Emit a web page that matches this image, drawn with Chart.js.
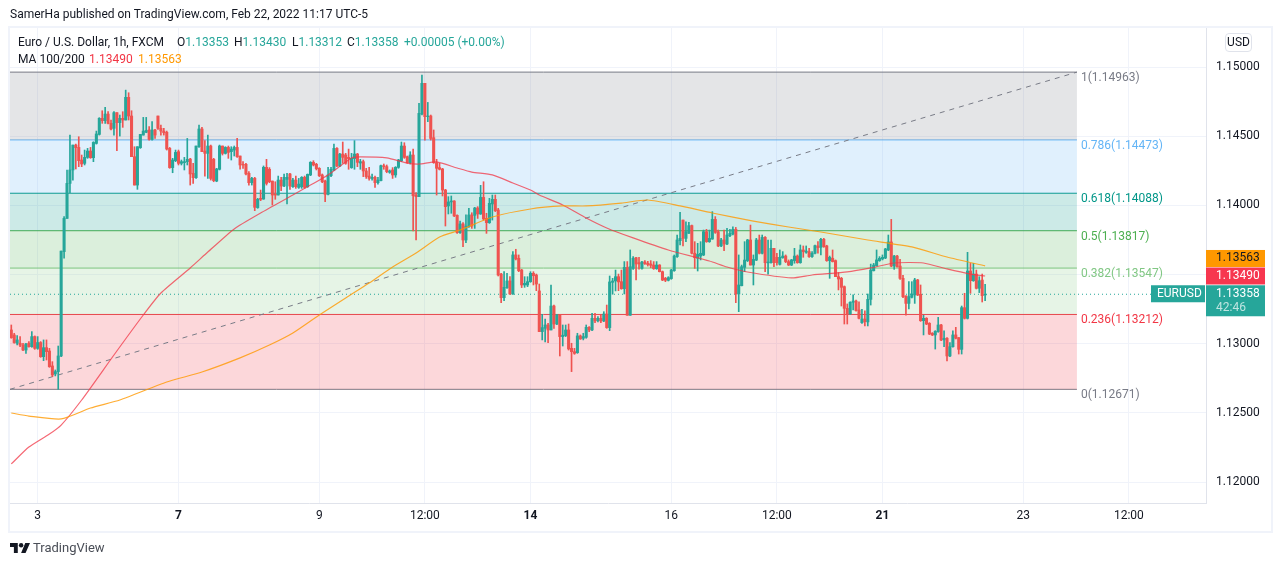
<!DOCTYPE html>
<html>
<head>
<meta charset="utf-8">
<title>EURUSD 1h</title>
<script src="https://cdn.jsdelivr.net/npm/chart.js@4"></script>
<style>
html,body{margin:0;padding:0;background:#fff;}
body{width:1280px;height:566px;overflow:hidden;position:relative;font-family:Roboto,sans-serif;font-size:12px;color:#131722;}
canvas{position:absolute;left:0;top:0;}
.t{position:absolute;white-space:pre;line-height:16px;}
.frame{position:absolute;left:8px;top:26px;width:1261px;height:503px;border:2px solid #f0f3fa;}
.up{color:#26a69a;}
.usd{position:absolute;left:1225px;top:33px;width:25px;height:17px;line-height:17px;border:1px solid #e0e3eb;border-radius:4px;text-align:center;background:#fff;}
</style>
</head>
<body>
<div class="frame"></div>
<canvas id="chart" width="1280" height="566"></canvas>

<div class="t" style="left:10px;top:6px">SamerHa published on TradingView.com, Feb 22, 2022 11:17 UTC-5</div>
<div class="t" style="left:18px;top:34px">Euro / U.S. Dollar, 1h, FXCM</div>
<div class="t" style="left:177px;top:34px">O<span class="up">1.13353</span></div>
<div class="t" style="left:234px;top:34px">H<span class="up">1.13430</span></div>
<div class="t" style="left:292px;top:34px">L<span class="up">1.13312</span></div>
<div class="t" style="left:347px;top:34px">C<span class="up">1.13358</span></div>
<div class="t up" style="left:404px;top:34px">+0.00005 (+0.00%)</div>
<div class="t" style="left:18px;top:51px">MA 100/200</div>
<div class="t" style="left:89px;top:51px;color:#f23645">1.13490</div>
<div class="t" style="left:138px;top:51px;color:#ff9800">1.13563</div>
<div class="usd">USD</div>

<svg style="position:absolute;left:10px;top:543px" width="20" height="10" viewBox="0 0 36 18"><path fill="#131722" d="M14 18H7V7H0V0h14v18zm14 0h-8l7.5-18H36l-8 18z"/><circle fill="#131722" cx="20" cy="4" r="4"/></svg>
<div class="t" style="left:33px;top:540px;font-size:13px;color:#4a4e57">TradingView</div>

<script>
// hourly candles
let opens = [
1.13100,1.13064,1.13004,1.13004,1.12991,1.12955,1.13004,1.12979,1.13052,1.12967,
1.13009,1.12907,1.12972,1.12948,1.12840,1.12782,1.12799,1.12912,1.13666,1.13906,
1.14159,1.14256,1.14436,1.14419,1.14328,1.14304,1.14347,1.14393,1.14345,1.14448,
1.14513,1.14629,1.14612,1.14660,1.14593,1.14557,1.14670,1.14598,1.14629,1.14617,
1.14781,1.14646,1.14352,1.14147,1.14417,1.14508,1.14528,1.14545,1.14477,1.14545,
1.14646,1.14557,1.14537,1.14528,1.14412,1.14273,1.14323,1.14388,1.14304,1.14309,
1.14316,1.14335,1.14232,1.14200,1.14424,1.14552,1.14393,1.14376,1.14429,1.14333,
1.14176,1.14261,1.14429,1.14376,1.14419,1.14388,1.14400,1.14419,1.14357,1.14297,
1.14297,1.14232,1.14164,1.14195,1.13984,1.14051,1.14046,1.14275,1.14261,1.14176,
1.14080,1.14075,1.14183,1.14140,1.14188,1.14227,1.14135,1.14183,1.14130,1.14135,
1.14203,1.14135,1.14220,1.14311,1.14297,1.14268,1.14220,1.14176,1.14080,1.14215,
1.14256,1.14412,1.14285,1.14371,1.14364,1.14347,1.14273,1.14338,1.14371,1.14306,
1.14316,1.14249,1.14212,1.14195,1.14203,1.14164,1.14179,1.14287,1.14280,1.14239,
1.14256,1.14220,1.14275,1.14323,1.14429,1.14352,1.14309,1.14364,1.14075,1.14063,
1.14660,1.14882,1.14641,1.14646,1.14489,1.14309,1.14273,1.14263,1.14111,1.13996,
1.14025,1.14032,1.13928,1.13803,1.13866,1.13750,1.13846,1.13931,1.13928,1.13981,
1.13938,1.14058,1.13906,1.13875,1.14010,1.14044,1.13967,1.13504,1.13333,1.13405,
1.13454,1.13360,1.13642,1.13618,1.13533,1.13425,1.13425,1.13449,1.13509,1.13497,
1.13382,1.13088,1.13112,1.13136,1.13100,1.13273,1.13143,1.13208,1.13052,1.13059,
1.13100,1.12967,1.12943,1.12936,1.13057,1.13040,1.13047,1.13119,1.13100,1.13184,
1.13167,1.13184,1.13165,1.13215,1.13117,1.13444,1.13454,1.13485,1.13449,1.13398,
1.13552,1.13206,1.13545,1.13622,1.13586,1.13545,1.13591,1.13582,1.13577,1.13569,
1.13543,1.13569,1.13521,1.13473,1.13459,1.13471,1.13528,1.13630,1.13745,1.13894,
1.13762,1.13798,1.13854,1.13654,1.13618,1.13634,1.13642,1.13810,1.13738,1.13757,
1.13899,1.13810,1.13707,1.13750,1.13721,1.13781,1.13793,1.13827,1.13360,1.13420,
1.13552,1.13601,1.13750,1.13569,1.13605,1.13750,1.13654,1.13769,1.13584,1.13586,
1.13690,1.13625,1.13574,1.13622,1.13634,1.13594,1.13569,1.13601,1.13634,1.13586,
1.13678,1.13661,1.13666,1.13630,1.13654,1.13707,1.13697,1.13755,1.13707,1.13601,
1.13618,1.13601,1.13485,1.13473,1.13413,1.13256,1.13215,1.13300,1.13309,1.13244,
1.13153,1.13179,1.13158,1.13321,1.13528,1.13565,1.13601,1.13613,1.13620,1.13678,
1.13736,1.13562,1.13634,1.13562,1.13473,1.13346,1.13292,1.13336,1.13353,1.13461,
1.13358,1.13167,1.13184,1.13148,1.13076,1.13064,1.13088,1.13136,1.13028,1.13040,
1.12912,1.12979,1.13064,1.13045,1.12960,1.13261,1.13184,1.13526,1.13456,1.13504,
1.13401,1.13461,1.13353
];
let highs = [
1.13136,1.13076,1.13059,1.13052,1.13004,1.13004,1.13016,1.13088,1.13057,1.13052,
1.13016,1.13028,1.13028,1.12967,1.12871,1.12811,1.12984,1.13670,1.13919,1.14256,
1.14508,1.14436,1.14443,1.14496,1.14364,1.14400,1.14412,1.14419,1.14460,1.14537,
1.14634,1.14684,1.14708,1.14677,1.14617,1.14677,1.14670,1.14653,1.14677,1.14833,
1.14814,1.14684,1.14424,1.14424,1.14513,1.14636,1.14636,1.14569,1.14605,1.14549,
1.14646,1.14581,1.14557,1.14537,1.14419,1.14340,1.14400,1.14400,1.14328,1.14347,
1.14484,1.14340,1.14304,1.14429,1.14581,1.14564,1.14468,1.14508,1.14436,1.14340,
1.14268,1.14436,1.14429,1.14424,1.14429,1.14424,1.14429,1.14484,1.14357,1.14316,
1.14304,1.14244,1.14203,1.14203,1.14051,1.14111,1.14285,1.14333,1.14273,1.14176,
1.14171,1.14212,1.14203,1.14227,1.14232,1.14232,1.14195,1.14212,1.14195,1.14208,
1.14212,1.14227,1.14316,1.14323,1.14304,1.14273,1.14227,1.14183,1.14275,1.14275,
1.14443,1.14417,1.14376,1.14458,1.14376,1.14407,1.14376,1.14468,1.14376,1.14333,
1.14328,1.14268,1.14275,1.14227,1.14212,1.14203,1.14292,1.14299,1.14292,1.14256,
1.14273,1.14280,1.14333,1.14458,1.14453,1.14357,1.14388,1.14407,1.14092,1.14737,
1.14942,1.14882,1.14744,1.14653,1.14545,1.14333,1.14304,1.14268,1.14116,1.14063,
1.14068,1.14034,1.13931,1.13887,1.13875,1.13931,1.13979,1.13947,1.13986,1.13991,
1.14145,1.14171,1.13943,1.14051,1.14075,1.14075,1.13979,1.13509,1.13521,1.13509,
1.13485,1.13666,1.13683,1.13642,1.13538,1.13485,1.13485,1.13521,1.13521,1.13504,
1.13432,1.13213,1.13179,1.13148,1.13425,1.13280,1.13213,1.13213,1.13136,1.13136,
1.13143,1.13004,1.12967,1.13076,1.13064,1.13076,1.13136,1.13124,1.13220,1.13220,
1.13196,1.13208,1.13232,1.13280,1.13490,1.13473,1.13533,1.13504,1.13533,1.13594,
1.13594,1.13678,1.13630,1.13625,1.13625,1.13596,1.13601,1.13596,1.13601,1.13594,
1.13594,1.13572,1.13526,1.13480,1.13485,1.13538,1.13642,1.13786,1.13950,1.13894,
1.13882,1.13878,1.13858,1.13738,1.13726,1.13738,1.13822,1.13827,1.13822,1.13955,
1.13919,1.13822,1.13762,1.13822,1.13834,1.13827,1.13846,1.13841,1.13642,1.13569,
1.13738,1.13755,1.13858,1.13642,1.13762,1.13786,1.13786,1.13774,1.13750,1.13750,
1.13690,1.13654,1.13678,1.13666,1.13642,1.13606,1.13610,1.13690,1.13642,1.13714,
1.13707,1.13707,1.13690,1.13666,1.13714,1.13738,1.13762,1.13762,1.13712,1.13634,
1.13678,1.13606,1.13514,1.13480,1.13418,1.13288,1.13304,1.13353,1.13316,1.13304,
1.13249,1.13239,1.13360,1.13576,1.13581,1.13678,1.13630,1.13642,1.13690,1.13786,
1.13899,1.13639,1.13639,1.13610,1.13495,1.13346,1.13449,1.13449,1.13473,1.13466,
1.13425,1.13206,1.13189,1.13153,1.13081,1.13095,1.13191,1.13141,1.13093,1.13045,
1.13008,1.13093,1.13119,1.13045,1.13273,1.13365,1.13661,1.13581,1.13581,1.13533,
1.13485,1.13504,1.13430
];
let lows = [
1.13040,1.13004,1.12991,1.12979,1.12951,1.12931,1.12975,1.12975,1.12960,1.12960,
1.12902,1.12878,1.12883,1.12830,1.12763,1.12768,1.12671,1.12907,1.13618,1.13906,
1.14092,1.14183,1.14263,1.14280,1.14280,1.14292,1.14340,1.14340,1.14316,1.14443,
1.14508,1.14593,1.14593,1.14588,1.14545,1.14508,1.14395,1.14501,1.14564,1.14617,
1.14617,1.14352,1.14147,1.14116,1.14412,1.14508,1.14525,1.14472,1.14472,1.14484,
1.14549,1.14508,1.14508,1.14400,1.14268,1.14236,1.14316,1.14292,1.14292,1.14256,
1.14292,1.14147,1.14159,1.14195,1.14419,1.14388,1.14212,1.14195,1.14183,1.14171,
1.14171,1.14256,1.14364,1.14371,1.14340,1.14328,1.14357,1.14347,1.14261,1.14268,
1.14220,1.14147,1.14147,1.13962,1.13979,1.14034,1.14044,1.14147,1.14164,1.14003,
1.14044,1.14075,1.14106,1.14135,1.14010,1.14116,1.14130,1.14123,1.14123,1.14123,
1.14123,1.14130,1.14215,1.14285,1.14256,1.14208,1.14164,1.14027,1.14075,1.14208,
1.14251,1.14280,1.14280,1.14304,1.14297,1.14261,1.14268,1.14261,1.14280,1.14261,
1.14208,1.14195,1.14183,1.14183,1.14130,1.14154,1.14176,1.14261,1.14236,1.14232,
1.14195,1.14203,1.14268,1.14316,1.14340,1.14304,1.14299,1.13815,1.13750,1.14063,
1.14653,1.14472,1.14605,1.14472,1.14304,1.14075,1.14256,1.14068,1.13851,1.13938,
1.13943,1.13919,1.13798,1.13798,1.13702,1.13731,1.13841,1.13834,1.13834,1.13906,
1.13935,1.13894,1.13798,1.13870,1.13894,1.13955,1.13490,1.13297,1.13312,1.13401,
1.13357,1.13357,1.13606,1.13521,1.13406,1.13408,1.13413,1.13444,1.13425,1.13384,
1.13088,1.13028,1.13013,1.13009,1.13100,1.13112,1.13138,1.12912,1.12984,1.13052,
1.12955,1.12799,1.12924,1.12931,1.13032,1.13028,1.13040,1.13088,1.13095,1.13153,
1.13158,1.13153,1.13160,1.13112,1.13095,1.13358,1.13382,1.13384,1.13394,1.13360,
1.13206,1.13206,1.13538,1.13461,1.13540,1.13540,1.13574,1.13562,1.13550,1.13538,
1.13538,1.13519,1.13456,1.13449,1.13454,1.13466,1.13524,1.13625,1.13714,1.13707,
1.13738,1.13798,1.13649,1.13545,1.13526,1.13606,1.13637,1.13733,1.13733,1.13755,
1.13798,1.13702,1.13702,1.13673,1.13716,1.13774,1.13786,1.13297,1.13232,1.13418,
1.13521,1.13594,1.13569,1.13425,1.13601,1.13649,1.13649,1.13521,1.13504,1.13582,
1.13557,1.13569,1.13569,1.13618,1.13586,1.13565,1.13565,1.13582,1.13582,1.13582,
1.13625,1.13654,1.13625,1.13625,1.13649,1.13654,1.13642,1.13697,1.13596,1.13473,
1.13591,1.13485,1.13389,1.13273,1.13143,1.13143,1.13213,1.13244,1.13235,1.13179,
1.13148,1.13129,1.13129,1.13280,1.13526,1.13562,1.13596,1.13606,1.13615,1.13673,
1.13557,1.13538,1.13553,1.13466,1.13334,1.13206,1.13252,1.13331,1.13292,1.13348,
1.13162,1.13064,1.13138,1.13066,1.13059,1.12962,1.13083,1.13023,1.12979,1.12876,
1.12907,1.12975,1.13035,1.12926,1.12926,1.13179,1.13179,1.13365,1.13451,1.13396,
1.13370,1.13302,1.13312
];
let closes = [
1.13044,1.13009,1.13028,1.12991,1.12955,1.12999,1.12979,1.13052,1.12967,1.13009,
1.12907,1.12972,1.12943,1.12835,1.12775,1.12799,1.12912,1.13670,1.13906,1.14159,
1.14256,1.14436,1.14417,1.14323,1.14299,1.14347,1.14393,1.14345,1.14455,1.14516,
1.14629,1.14612,1.14660,1.14593,1.14552,1.14670,1.14598,1.14629,1.14617,1.14781,
1.14646,1.14352,1.14147,1.14424,1.14513,1.14537,1.14542,1.14477,1.14545,1.14508,
1.14557,1.14537,1.14525,1.14407,1.14273,1.14328,1.14383,1.14304,1.14316,1.14316,
1.14333,1.14227,1.14200,1.14429,1.14552,1.14388,1.14376,1.14429,1.14195,1.14179,
1.14263,1.14429,1.14376,1.14419,1.14383,1.14407,1.14419,1.14352,1.14292,1.14292,
1.14227,1.14164,1.14195,1.13986,1.14044,1.14044,1.14275,1.14159,1.14171,1.14075,
1.14075,1.14183,1.14140,1.14203,1.14203,1.14140,1.14183,1.14135,1.14154,1.14203,
1.14130,1.14224,1.14311,1.14292,1.14265,1.14215,1.14171,1.14080,1.14220,1.14261,
1.14412,1.14285,1.14371,1.14347,1.14304,1.14338,1.14340,1.14371,1.14311,1.14316,
1.14249,1.14208,1.14195,1.14203,1.14164,1.14183,1.14287,1.14280,1.14244,1.14249,
1.14220,1.14275,1.14328,1.14429,1.14347,1.14309,1.14364,1.14070,1.14063,1.14665,
1.14882,1.14641,1.14646,1.14484,1.14309,1.14268,1.14261,1.14111,1.13991,1.14025,
1.14032,1.13924,1.13803,1.13866,1.13750,1.13851,1.13931,1.13851,1.13981,1.13938,
1.14058,1.13902,1.13875,1.14015,1.14044,1.13962,1.13497,1.13333,1.13408,1.13454,
1.13360,1.13642,1.13613,1.13528,1.13425,1.13437,1.13449,1.13509,1.13492,1.13432,
1.13088,1.13117,1.13136,1.13100,1.13273,1.13143,1.13208,1.13052,1.13062,1.13100,
1.12963,1.12943,1.12931,1.13057,1.13035,1.13052,1.13119,1.13100,1.13184,1.13165,
1.13184,1.13165,1.13215,1.13117,1.13447,1.13454,1.13485,1.13447,1.13398,1.13552,
1.13206,1.13557,1.13618,1.13577,1.13577,1.13591,1.13579,1.13572,1.13567,1.13543,
1.13569,1.13521,1.13461,1.13459,1.13478,1.13533,1.13634,1.13750,1.13762,1.13762,
1.13810,1.13854,1.13654,1.13622,1.13646,1.13654,1.13810,1.13738,1.13762,1.13899,
1.13805,1.13707,1.13750,1.13721,1.13786,1.13798,1.13827,1.13360,1.13425,1.13557,
1.13605,1.13750,1.13569,1.13610,1.13750,1.13654,1.13769,1.13586,1.13591,1.13690,
1.13586,1.13586,1.13625,1.13634,1.13594,1.13569,1.13606,1.13634,1.13586,1.13678,
1.13666,1.13670,1.13630,1.13654,1.13709,1.13695,1.13755,1.13702,1.13601,1.13625,
1.13594,1.13485,1.13468,1.13408,1.13256,1.13215,1.13300,1.13309,1.13240,1.13184,
1.13179,1.13160,1.13321,1.13533,1.13569,1.13606,1.13618,1.13625,1.13685,1.13736,
1.13562,1.13634,1.13557,1.13473,1.13341,1.13292,1.13341,1.13360,1.13461,1.13353,
1.13167,1.13184,1.13143,1.13071,1.13064,1.13090,1.13136,1.13028,1.13040,1.12912,
1.12979,1.13064,1.13040,1.12960,1.13261,1.13184,1.13526,1.13456,1.13504,1.13401,
1.13456,1.13348,1.13358
];

// moving averages, read at the bar numbers in the *Bars arrays
let ma100Bars = [0,6,13,17,24,35,45,51,61,67,76,85,96,102,108,116,119,128,135,139,145,152,157,164,171,177,180,188,196,203,212,224,238,244,251,266,273,285,293,301,311,319,327,332];
let ma100 = [1.12132,1.12254,1.12348,1.12413,1.12594,1.12919,1.13208,1.13367,1.13548,1.13663,1.13830,1.13945,1.14075,1.14147,1.14220,1.14343,1.14350,1.14343,1.14306,1.14299,1.14314,1.14270,1.14241,1.14220,1.14162,1.14111,1.14075,1.14003,1.13909,1.13837,1.13765,1.13678,1.13598,1.13555,1.13519,1.13476,1.13497,1.13519,1.13548,1.13584,1.13584,1.13541,1.13504,1.13490];
let ma200Bars = [0,6,17,27,37,53,65,78,88,96,105,114,122,130,138,146,153,164,177,188,196,208,217,228,239,253,265,276,292,307,319,332];
let ma200 = [1.12500,1.12478,1.12457,1.12536,1.12594,1.12724,1.12796,1.12898,1.12991,1.13078,1.13208,1.13331,1.13439,1.13555,1.13656,1.13772,1.13822,1.13916,1.13974,1.13996,1.13996,1.14017,1.14039,1.13996,1.13945,1.13887,1.13844,1.13808,1.13750,1.13700,1.13627,1.13563];

// fibonacci retracement drawing
let fibRatios = ["1","0.786","0.618","0.5","0.382","0.236","0"];
let fibLevels = [1.14963,1.14473,1.14088,1.13817,1.13547,1.13212,1.12671];
let fibColors = ["#787b86","#64b5f6","#009688","#4caf50","#81c784","#f23645","#787b86"];
let fibFills = ["rgba(120,123,134,0.2)","rgba(100,181,246,0.2)","rgba(0,150,136,0.2)","rgba(76,175,80,0.2)","rgba(129,199,132,0.2)","rgba(242,54,69,0.2)"];

// axes
let priceTicks = [1.15,1.145,1.14,1.135,1.13,1.125,1.12];
let timeTickBars = [9,57,105,141,177,225,261,297,345,381];
let timeTickLabels = ["3","7","9","12:00","14","16","12:00","21","23","12:00"];
let boldTimeLabels = ["7","14","21"];

let lastPrice = 1.13358;
let lastMa100 = 1.13490;
let lastMa200 = 1.13563;

let leftBar = -0.44;
let fibEndBar = 363.3;
let rightBar = 407.3;
let priceTop = 1.152818;
let priceBottom = 1.118497;

const UP = "#26a69a";
const DOWN = "#ef5350";
const FONT = "Roboto, sans-serif";


function candleColor(i){
    return closes[i] >= opens[i] ? UP : DOWN;
}


function buildDatasets(){

    let list = [];

    fibLevels.forEach(function(level,i){
        list.push({
            type:"line",
            order:20,
            data:[{x:leftBar,y:level},{x:fibEndBar,y:level}],
            borderColor:fibColors[i],
            borderWidth:1,
            pointRadius:0,
            fill:i < fibFills.length ? "+1" : false,
            backgroundColor:fibFills[i]
        });
    });

    list.push({
        type:"line",
        order:15,
        data:[{x:leftBar,y:fibLevels[6]},{x:fibEndBar,y:fibLevels[0]}],
        borderColor:"#787b86",
        borderWidth:1,
        borderDash:[5,5],
        pointRadius:0
    });

    list.push({
        type:"line",
        order:14,
        data:[{x:leftBar,y:lastPrice},{x:rightBar,y:lastPrice}],
        borderColor:UP,
        borderWidth:1,
        borderDash:[1,3],
        pointRadius:0
    });

    list.push({
        type:"bar",
        order:10,
        grouped:false,
        barThickness:1,
        data:highs.map(function(h,i){ return {x:i,y:[lows[i],h]}; }),
        backgroundColor:highs.map(function(h,i){ return candleColor(i); })
    });

    list.push({
        type:"bar",
        order:9,
        grouped:false,
        barThickness:2.4,
        data:opens.map(function(o,i){ return {x:i,y:[o,closes[i]]}; }),
        backgroundColor:opens.map(function(o,i){ return candleColor(i); })
    });

    list.push({
        type:"line",
        order:5,
        data:ma100.map(function(v,i){ return {x:ma100Bars[i],y:v}; }),
        borderColor:"rgba(242,54,69,0.75)",
        borderWidth:1.2,
        pointRadius:0,
        tension:0.2
    });

    list.push({
        type:"line",
        order:4,
        data:ma200.map(function(v,i){ return {x:ma200Bars[i],y:v}; }),
        borderColor:"rgba(255,152,0,0.8)",
        borderWidth:1.2,
        pointRadius:0,
        tension:0.2
    });

    return list;

}


function priceTag(ctx,y,h,color,textColor,text){
    ctx.fillStyle = color;
    ctx.fillRect(1206,y,59,h);
    ctx.fillStyle = textColor;
    ctx.fillText(text,1216,y+8.5);
}


// fib captions and the boxes on the price axis
let labelsPlugin = {
    id:"labels",
    afterDraw:function(chart){

        let ctx = chart.ctx;
        let xs = chart.scales.x;
        let ys = chart.scales.y;

        ctx.save();
        ctx.font = "12px "+FONT;
        ctx.textBaseline = "middle";
        ctx.textAlign = "left";

        fibLevels.forEach(function(level,i){
            ctx.fillStyle = fibColors[i];
            ctx.fillText(fibRatios[i]+"("+level.toFixed(5)+")",xs.getPixelForValue(fibEndBar)+4,ys.getPixelForValue(level)+6);
        });

        let redY = ys.getPixelForValue(lastMa100)-8.5;
        priceTag(ctx,redY,17,"#f7374f","#ffffff",lastMa100.toFixed(5));
        priceTag(ctx,redY-17.5,17,"#ff9800","#131722",lastMa200.toFixed(5));

        let lastY = ys.getPixelForValue(lastPrice)-9;
        priceTag(ctx,lastY,31,UP,"#ffffff",lastPrice.toFixed(5));
        ctx.fillStyle = "rgba(255,255,255,0.7)";
        ctx.fillText("42:46",1216,lastY+23);

        ctx.fillStyle = UP;
        ctx.fillRect(1151,lastY,54,17);
        ctx.fillStyle = "#ffffff";
        ctx.fillText("EURUSD",1157,lastY+8.5);

        ctx.restore();

    }
};


new Chart(document.getElementById("chart"),{
    data:{datasets:buildDatasets()},
    plugins:[labelsPlugin],
    options:{
        responsive:false,
        animation:false,
        events:[],
        layout:{padding:{left:10,top:28,right:10,bottom:36}},
        plugins:{legend:{display:false},tooltip:{enabled:false}},
        scales:{
            x:{
                type:"linear",
                min:leftBar,
                max:rightBar,
                offset:false,
                afterBuildTicks:function(scale){
                    scale.ticks = timeTickBars.map(function(v){ return {value:v}; });
                },
                afterFit:function(scale){ scale.height = 27; },
                grid:{color:"#f0f3fa",drawTicks:false,offset:false},
                border:{color:"#e0e3eb"},
                ticks:{
                    autoSkip:false,
                    maxRotation:0,
                    padding:6,
                    color:"#131722",
                    font:function(c){
                        let text = c.tick ? timeTickLabels[timeTickBars.indexOf(c.tick.value)] : "";
                        return {family:FONT,size:12,weight:boldTimeLabels.includes(text) ? "bold" : "normal"};
                    },
                    callback:function(value){
                        return timeTickLabels[timeTickBars.indexOf(value)];
                    }
                }
            },
            y:{
                position:"right",
                min:priceBottom,
                max:priceTop,
                afterBuildTicks:function(scale){
                    scale.ticks = priceTicks.map(function(v){ return {value:v}; });
                },
                afterFit:function(scale){ scale.width = 64; },
                grid:{color:"#f0f3fa",drawTicks:false},
                border:{color:"#e0e3eb"},
                ticks:{
                    padding:10,
                    color:"#131722",
                    font:{family:FONT,size:12},
                    callback:function(value){ return value.toFixed(5); }
                }
            }
        }
    }
});
</script>
</body>
</html>
